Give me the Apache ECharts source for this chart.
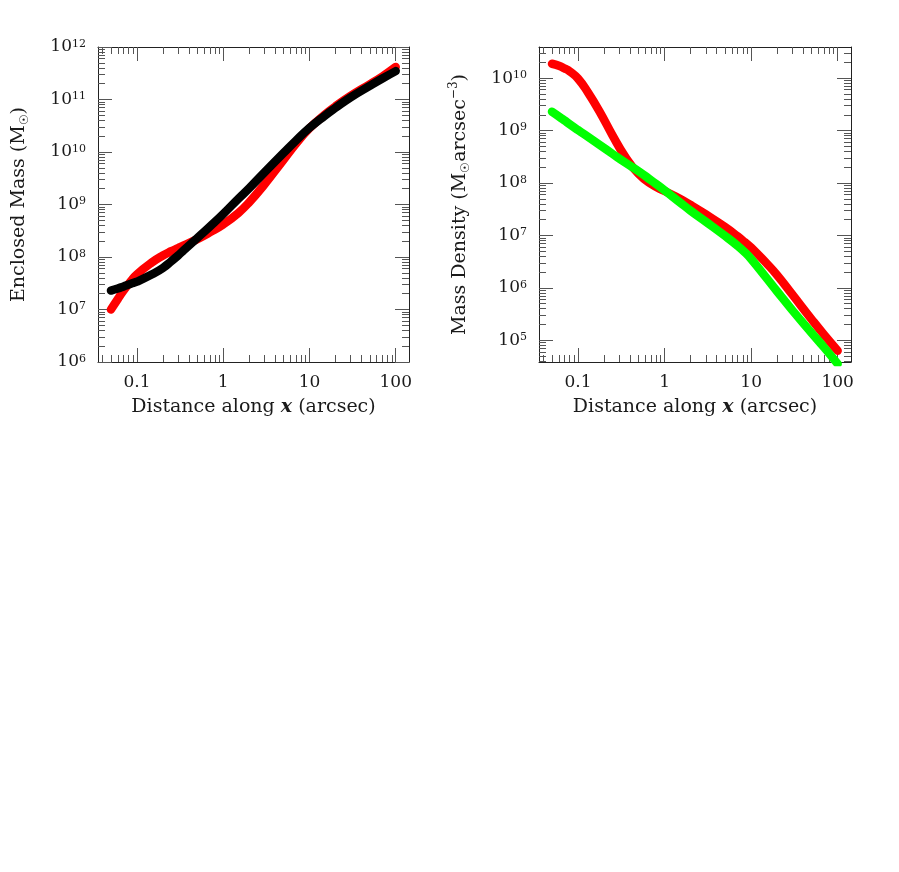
<!DOCTYPE html>
<html><head><meta charset="utf-8">
<script src="https://cdn.jsdelivr.net/npm/echarts@6/dist/echarts.min.js"></script>
<style>html,body{margin:0;padding:0;background:#fff}#c{width:899px;height:872px}</style>
</head><body><div id="c"></div>
<script>
// ---------- data ----------
const massX = [0.05, 0.06, 0.07, 0.085, 0.1, 0.15, 0.2, 0.25, 0.3, 0.35, 0.5, 0.7, 1, 1.5, 2, 3, 5, 7, 10, 15, 20, 30, 50, 70, 100];
const massRed = [1.0e7, 1.58e7, 2.29e7, 3.47e7, 4.68e7, 7.94e7, 1.07e8, 1.29e8, 1.48e8, 1.66e8, 2.19e8, 2.95e8, 4.17e8, 6.92e8, 1.1e9, 2.4e9, 7.08e9, 1.45e10, 2.82e10, 5.13e10, 7.41e10, 1.17e11, 1.95e11, 2.75e11, 4.17e11];
const massBlack = [2.29e7, 2.51e7, 2.75e7, 3.09e7, 3.39e7, 4.68e7, 6.17e7, 8.32e7, 1.07e8, 1.35e8, 2.29e8, 3.8e8, 6.61e8, 1.29e9, 2.04e9, 4.07e9, 9.55e9, 1.66e10, 2.88e10, 4.9e10, 6.92e10, 1.1e11, 1.82e11, 2.51e11, 3.47e11];

const densX = [0.05, 0.06, 0.07, 0.08, 0.1, 0.13, 0.18, 0.25, 0.35, 0.5, 0.7, 1, 1.5, 2, 3, 5, 7, 8.5, 10, 15, 20, 30, 50, 70, 100];
const densRed = [1.88e10, 1.72e10, 1.53e10, 1.35e10, 9.77e9, 5.33e9, 2.2e9, 8.11e8, 3.18e8, 1.49e8, 9.57e7, 7.0e7, 5.01e7, 3.8e7, 2.51e7, 1.45e7, 9.55e6, 7.36e6, 5.89e6, 2.95e6, 1.74e6, 7.41e5, 2.51e5, 1.26e5, 6.31e4];
const densGreen = [2.29e9, 1.86e9, 1.55e9, 1.32e9, 1.02e9, 7.59e8, 5.25e8, 3.59e8, 2.45e8, 1.68e8, 1.12e8, 7.24e7, 4.27e7, 2.95e7, 1.82e7, 9.77e6, 6.31e6, 4.73e6, 3.55e6, 1.55e6, 8.51e5, 3.72e5, 1.38e5, 7.24e4, 3.55e4];

const xTicks = [0.1, 1, 10, 100];
const xTickLabels = ['0.1', '1', '10', '100'];
const massYTicks = [1e6, 1e7, 1e8, 1e9, 1e10, 1e11, 1e12];
const densYTicks = [1e5, 1e6, 1e7, 1e8, 1e9, 1e10];

// ---------- styling ----------
const FONT = 'DejaVu Serif';
const TXT = '#1a1a1a';
const FRAME = '#222';
const TICK = '#555';
const MAJ = 14, MINL = 7;
const X_MIN = 0.03538, X_MAX = 142.5;
const MASS_MIN = 1e6, MASS_MAX = 1e12;
const DENS_MIN = 3.85e4, DENS_MAX = 3.92e10;

function minorTicks(lo, hi, min, max) {
  const out = [];
  for (let e = lo; e <= hi; e++) for (let k = 2; k <= 9; k++) {
    const v = +(k * Math.pow(10, e)).toPrecision(3);
    if (v > min && v < max) out.push(v);
  }
  return out;
}

const xFmt = v => { const i = xTicks.findIndex(t => Math.abs(t - v) / t < 1e-6); return i >= 0 ? xTickLabels[i] : ''; };
const yFmt = v => '10{s|' + Math.round(Math.log10(v)) + '}';
const yRich = { s: { fontSize: 11, fontFamily: FONT, color: TXT, verticalAlign: 'top', lineHeight: 11 } };

function makeAxes(dim, gi, min, max, major, minor, fmt, rich, nameCfg, margin) {
  const posA = dim === 'x' ? 'bottom' : 'left';
  const posB = dim === 'x' ? 'top' : 'right';
  const base = { type: 'log', logBase: 10, gridIndex: gi, min: min, max: max, silent: true,
    splitLine: { show: false }, minorTick: { show: false }, minorSplitLine: { show: false } };
  const line = { show: true, onZero: false, lineStyle: { color: FRAME, width: 1 } };
  const tick = (vals, len) => ({ show: true, inside: true, length: len, customValues: vals, lineStyle: { color: TICK, width: 1 } });
  return [
    Object.assign({}, base, nameCfg, { position: posA, axisLine: line, axisTick: tick(major, MAJ),
      axisLabel: { show: true, customValues: major, formatter: fmt, rich: rich, margin: margin,
        fontFamily: FONT, fontSize: 17, color: TXT } }),
    Object.assign({}, base, { position: posA, axisLine: { show: false }, axisTick: tick(minor, MINL), axisLabel: { show: false } }),
    Object.assign({}, base, { position: posB, axisLine: line, axisTick: tick(major, MAJ), axisLabel: { show: false } }),
    Object.assign({}, base, { position: posB, axisLine: { show: false }, axisTick: tick(minor, MINL), axisLabel: { show: false } })
  ];
}

const xName = {
  name: 'Distance along {bx|x} (arcsec)', nameLocation: 'middle', nameGap: 36,
  nameTextStyle: { fontFamily: FONT, fontSize: 19, color: TXT,
    rich: { bx: { fontFamily: FONT, fontSize: 19, fontWeight: 'bold', fontStyle: 'italic', color: TXT } } }
};
const subRich = {
  sb: { fontFamily: FONT, fontSize: 12, color: TXT, verticalAlign: 'bottom', lineHeight: 12 },
  sp: { fontFamily: FONT, fontSize: 12, color: TXT, verticalAlign: 'top', lineHeight: 12 }
};
const massName = {
  name: 'Enclosed Mass (M{sb|☉})', nameLocation: 'middle', nameGap: 67,
  nameTextStyle: { fontFamily: FONT, fontSize: 19, color: TXT, lineHeight: 24, rich: subRich }
};
const densName = {
  name: 'Mass Density (M{sb|☉}arcsec{sp|−3})', nameLocation: 'middle', nameGap: 67,
  nameTextStyle: { fontFamily: FONT, fontSize: 19, color: TXT, lineHeight: 24, rich: subRich }
};

const xMinor = minorTicks(-2, 2, X_MIN, X_MAX);
const xAxes = [].concat(
  makeAxes('x', 0, X_MIN, X_MAX, xTicks, xMinor, xFmt, null, xName, 12),
  makeAxes('x', 1, X_MIN, X_MAX, xTicks, xMinor, xFmt, null, xName, 12)
);
const yAxes = [].concat(
  makeAxes('y', 0, MASS_MIN, MASS_MAX, massYTicks, minorTicks(6, 11, MASS_MIN, MASS_MAX), yFmt, yRich, massName, 12),
  makeAxes('y', 1, DENS_MIN, DENS_MAX, densYTicks, minorTicks(4, 10, DENS_MIN, DENS_MAX), yFmt, yRich, densName, 12)
);

function line(xs, ys, color, xi, yi, z) {
  return { type: 'line', xAxisIndex: xi, yAxisIndex: yi, data: xs.map((x, i) => [x, ys[i]]),
    symbol: 'none', showSymbol: false, smooth: 0.5, clip: true, z: z, silent: true,
    lineStyle: { color: color, width: 8.5, cap: 'round', join: 'round' } };
}

const chart = echarts.init(document.getElementById('c'), null, { renderer: 'canvas' });
chart.setOption({
  animation: false,
  backgroundColor: '#fff',
  grid: [
    { left: 98, top: 47, width: 311, height: 315, containLabel: false, outerBoundsMode: 'none' },
    { left: 539, top: 47, width: 312, height: 315, containLabel: false, outerBoundsMode: 'none' }
  ],
  xAxis: xAxes,
  yAxis: yAxes,
  series: [
    line(massX, massRed, '#ff0000', 0, 0, 2),
    line(massX, massBlack, '#000000', 0, 0, 3),
    line(densX, densRed, '#ff0000', 4, 4, 2),
    line(densX, densGreen, '#00ff00', 4, 4, 3)
  ]
});
</script></body></html>
